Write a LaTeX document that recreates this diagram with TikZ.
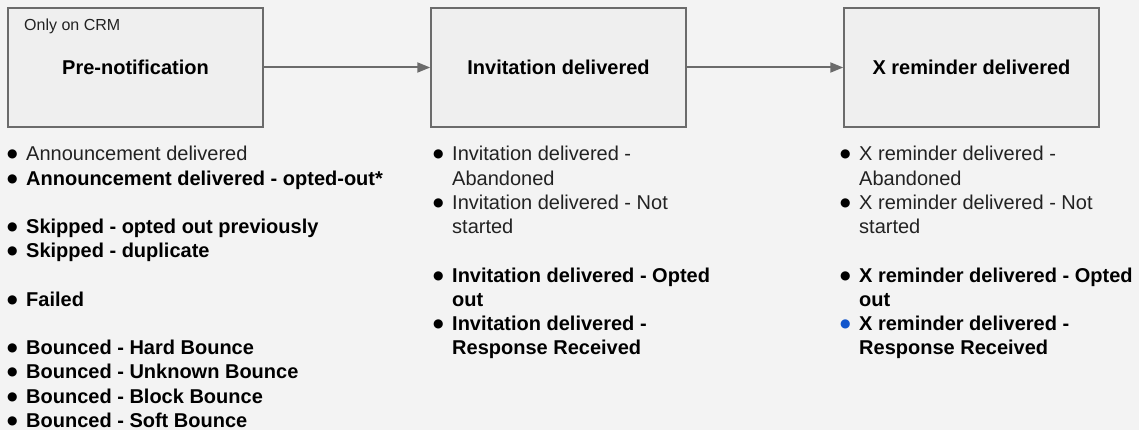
\documentclass[tikz,border=0pt]{standalone}
\usepackage{fontspec}
\setmainfont{Liberation Sans}
\newfontfamily\djv{DejaVu Sans}
\usetikzlibrary{arrows.meta}
\definecolor{bgcol}{HTML}{F3F3F3}
\definecolor{boxfill}{HTML}{EFEFEF}
\definecolor{boxline}{HTML}{6B6B6B}
\definecolor{txt}{HTML}{222222}
\definecolor{bluebul}{HTML}{1155CC}
\newcommand\bul[1][black]{\makebox[0pt][r]{\textcolor{#1}{\raisebox{3pt}{\djv\fontsize{12}{12}\selectfont ●}}\hspace{8.5pt}}}
\tikzset{
  stagebox/.style={draw=boxline, line width=1.5pt, fill=boxfill, minimum width=255pt, minimum height=119pt, inner sep=0pt, font=\fontsize{20}{24}\selectfont\bfseries, text=black},
  flow/.style={draw=boxline, line width=2pt, -{Triangle[length=13pt,width=10pt]}},
  item/.style={anchor=base west, inner sep=0pt, align=left, font=\fontsize{20}{24.2}\selectfont, text=txt},
  bitem/.style={item, font=\fontsize{20}{24.2}\selectfont\bfseries, text=black},
  tag/.style={anchor=base west, inner sep=0pt, font=\fontsize{16}{19}\selectfont, text=txt}
}
\begin{document}
\begin{tikzpicture}[x=1pt, y=-1pt]
\fill[bgcol] (0,0) rectangle (1139,430);
\useasboundingbox (0,0) rectangle (1139,430);

\node[stagebox] (b1) at (135.5,67.5) {Pre-notification};
\node[stagebox] (b2) at (558.5,67.5) {Invitation delivered};
\node[stagebox] (b3) at (971.5,67.5) {X reminder delivered};
\node[tag] (crm) at (24,31) {Only on CRM};

\draw[flow] (b1) -- (b2);
\draw[flow] (b2) -- (b3);

% column 1
\node[item]  (a1) at (26,161) {\bul Announcement delivered};
\node[bitem] (a2) at (26,185.2) {\bul Announcement delivered - opted-out*};
\node[bitem] (a3) at (26,233.6) {\bul Skipped - opted out previously};
\node[bitem] (a4) at (26,257.8) {\bul Skipped - duplicate};
\node[bitem] (a5) at (26,306.2) {\bul Failed};
\node[bitem] (a6) at (26,354.6) {\bul Bounced - Hard Bounce};
\node[bitem] (a7) at (26,378.8) {\bul Bounced - Unknown Bounce};
\node[bitem] (a8) at (26,403) {\bul Bounced - Block Bounce};
\node[bitem] (a9) at (26,427.2) {\bul Bounced - Soft Bounce};

% column 2 (multi-line nodes: base is the last line)
\node[item]  (i1) at (452,185.2) {\bul Invitation delivered -\\Abandoned};
\node[item]  (i2) at (452,233.6) {\bul Invitation delivered - Not\\started};
\node[bitem] (i3) at (452,306.2) {\bul Invitation delivered - Opted\\out};
\node[bitem] (i4) at (452,354.6) {\bul Invitation delivered -\\Response Received};

% column 3
\node[item]  (x1) at (859,185.2) {\bul X reminder delivered -\\Abandoned};
\node[item]  (x2) at (859,233.6) {\bul X reminder delivered - Not\\started};
\node[bitem] (x3) at (859,306.2) {\bul X reminder delivered - Opted\\out};
\node[bitem] (x4) at (859,354.6) {\bul[bluebul]X reminder delivered -\\Response Received};
\end{tikzpicture}
\end{document}
